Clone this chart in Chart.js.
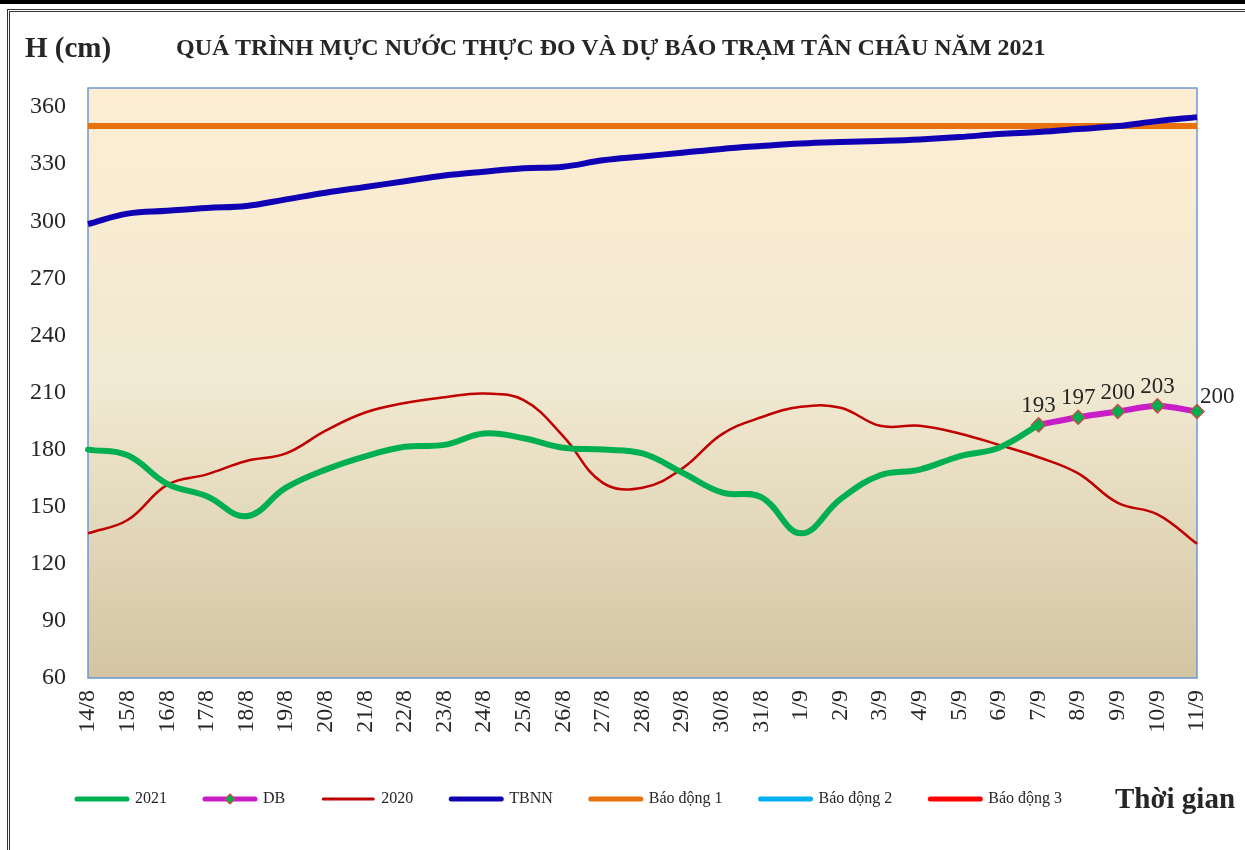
<!DOCTYPE html>
<html>
<head>
<meta charset="utf-8">
<title>Mực nước Tân Châu 2021</title>
<script src="https://cdn.jsdelivr.net/npm/chart.js@4.4.1/dist/chart.umd.min.js"></script>
<style>
  body { margin: 0; background: #fff; }
  #wrap { position: relative; width: 1245px; height: 850px; overflow: hidden; font-family: 'Liberation Serif', 'Times New Roman', serif; color: #262626; }
  #chart { position: absolute; left: 0; top: 0; }
  .topbar { position: absolute; left: 0; top: 0; width: 1245px; height: 4px; background: #000; }
  .frame { position: absolute; left: 7px; top: 9px; width: 1260px; height: 900px; border-left: 3px double #333; border-top: 3px double #333; }
  .txt { position: absolute; font-weight: bold; line-height: 1; white-space: nowrap; }
</style>
</head>
<body>
<div id="wrap">
  <div class="topbar"></div>
  <div class="frame"></div>
  <canvas id="chart" width="1245" height="850"></canvas>
  <div class="txt" style="left:25px;top:33px;font-size:29px;">H (cm)</div>
  <div class="txt" style="left:176px;top:35px;font-size:24px;">QUÁ TRÌNH MỰC NƯỚC THỰC ĐO VÀ DỰ BÁO TRẠM TÂN CHÂU NĂM 2021</div>
  <div class="txt" style="left:1115px;top:784px;font-size:29px;">Thời gian</div>
</div>
<script>
var labels = ['14/8', '15/8', '16/8', '17/8', '18/8', '19/8', '20/8', '21/8', '22/8', '23/8',
  '24/8', '25/8', '26/8', '27/8', '28/8', '29/8', '30/8', '31/8', '1/9', '2/9',
  '3/9', '4/9', '5/9', '6/9', '7/9', '8/9', '9/9', '10/9', '11/9'];

var level2021 = [180, 177, 162, 155.5, 145, 160, 169.5, 176.5, 181.5, 182.5,
  188.5, 186, 181, 180, 178, 168, 157.5, 155, 136, 154,
  166.5, 169.5, 176.5, 181, 193, null, null, null, null];

var forecast = [null, null, null, null, null, null, null, null, null, null,
  null, null, null, null, null, null, null, null, null, null,
  null, null, null, null, 193, 197, 200, 203, 200];

var level2020 = [136, 143, 161.5, 167, 174, 178, 190, 199.5, 204.5, 207.5,
  209.5, 206, 187, 162.5, 160, 170, 188, 197, 202.5, 202,
  192.5, 192.5, 188.5, 182.5, 176, 167.5, 152, 146, 130.5];

var average = [298.5, 304, 305.5, 307, 308, 311.5, 315, 318, 321, 324,
  326, 327.8, 328.6, 332, 334, 336, 338, 339.5, 340.8, 341.6,
  342.2, 343, 344.2, 345.8, 346.9, 348.4, 350, 352.6, 354.7];

var alarm1 = [350, 350, 350, 350, 350, 350, 350, 350, 350, 350,
  350, 350, 350, 350, 350, 350, 350, 350, 350, 350,
  350, 350, 350, 350, 350, 350, 350, 350, 350];

var alarm2 = [400, 400, 400, 400, 400, 400, 400, 400, 400, 400,
  400, 400, 400, 400, 400, 400, 400, 400, 400, 400,
  400, 400, 400, 400, 400, 400, 400, 400, 400];

var alarm3 = [450, 450, 450, 450, 450, 450, 450, 450, 450, 450,
  450, 450, 450, 450, 450, 450, 450, 450, 450, 450,
  450, 450, 450, 450, 450, 450, 450, 450, 450];

var yTicks = { min: 60, max: 370, step: 30, lastLabel: 360 };

var serif = "'Liberation Serif', 'Times New Roman', serif";
var textColor = '#262626';

function diamond(ctx, x, y, r) {
  ctx.beginPath();
  ctx.moveTo(x, y - r);
  ctx.lineTo(x + r, y);
  ctx.lineTo(x, y + r);
  ctx.lineTo(x - r, y);
  ctx.closePath();
  ctx.fill();
  ctx.stroke();
}

var plotBackground = {
  id: 'plotBackground',
  beforeDatasetsDraw: function (chart) {
    var a = chart.chartArea;
    var ctx = chart.ctx;
    var g = ctx.createLinearGradient(0, a.top, 0, a.bottom);
    g.addColorStop(0, '#fdeed2');
    g.addColorStop(0.5, '#f1e9d2');
    g.addColorStop(1, '#d3c5a1');
    ctx.save();
    ctx.fillStyle = g;
    ctx.fillRect(a.left, a.top, a.right - a.left, a.bottom - a.top);
    ctx.strokeStyle = '#6d97d6';
    ctx.lineWidth = 1.5;
    ctx.strokeRect(a.left, a.top, a.right - a.left, a.bottom - a.top);
    ctx.restore();
  }
};

// legend starts a bit right of the y axis box, as in the picture
var legendShift = {
  id: 'legendShift',
  afterLayout: function (chart) {
    chart.legend.left += 19;
    chart.legend.right += 19;
  }
};

var forecastLabels = {
  id: 'forecastLabels',
  afterDatasetsDraw: function (chart) {
    var ctx = chart.ctx;
    var points = chart.getDatasetMeta(1).data;
    ctx.save();
    ctx.font = '23px ' + serif;
    ctx.fillStyle = textColor;
    ctx.textBaseline = 'alphabetic';
    points.forEach(function (pt, i) {
      if (forecast[i] === null) return;
      if (i === labels.length - 1) {
        ctx.textAlign = 'left';
        ctx.fillText(forecast[i], pt.x + 3, pt.y - 9);
      } else {
        ctx.textAlign = 'center';
        ctx.fillText(forecast[i], pt.x, pt.y - 13);
      }
    });
    ctx.restore();
  },
  afterDraw: function (chart) {
    var box = chart.legend.legendHitBoxes[1];
    if (!box) return;
    var ctx = chart.ctx;
    ctx.save();
    ctx.fillStyle = '#00b050';
    ctx.strokeStyle = '#c0504d';
    ctx.lineWidth = 1.2;
    diamond(ctx, box.left + 25, box.top + 8, 5);
    ctx.restore();
  }
};

var chartContext = document.getElementById('chart');

var waterChart = new Chart(chartContext, {
  type: 'line',
  data: {
    labels: labels,
    datasets: [
      { label: '2021', data: level2021, borderColor: '#00b050', backgroundColor: '#00b050', borderWidth: 6, pointRadius: 0, tension: 0.4, borderCapStyle: 'round' },
      { label: 'DB', data: forecast, borderColor: '#c81cc8', backgroundColor: '#c81cc8', borderWidth: 6, tension: 0.3, clip: 12,
        pointStyle: 'rectRot', pointRadius: 7, pointBackgroundColor: '#00b050', pointBorderColor: '#c0504d', pointBorderWidth: 1.5 },
      { label: '2020', data: level2020, borderColor: '#c00000', backgroundColor: '#c00000', borderWidth: 2.5, pointRadius: 0, tension: 0.4 },
      { label: 'TBNN', data: average, borderColor: '#1000b4', backgroundColor: '#1000b4', borderWidth: 6, pointRadius: 0, tension: 0.4 },
      { label: 'Báo động 1', data: alarm1, borderColor: '#e8710e', backgroundColor: '#e8710e', borderWidth: 6, pointRadius: 0 },
      { label: 'Báo động 2', data: alarm2, borderColor: '#00b0f0', backgroundColor: '#00b0f0', borderWidth: 6, pointRadius: 0 },
      { label: 'Báo động 3', data: alarm3, borderColor: '#ff0000', backgroundColor: '#ff0000', borderWidth: 6, pointRadius: 0 }
    ]
  },
  options: {
    responsive: false,
    animation: false,
    devicePixelRatio: 1,
    layout: { padding: { left: 20, right: 48, top: 88, bottom: 33 } },
    scales: {
      x: {
        grid: { display: false, drawTicks: false },
        border: { display: false },
        ticks: { autoSkip: false, minRotation: 90, maxRotation: 90, padding: 12, color: textColor, font: { family: serif, size: 24 } },
        afterFit: function (scale) { scale.height = 75; }
      },
      y: {
        min: yTicks.min,
        max: yTicks.max,
        bounds: 'data',
        grid: { display: false, drawTicks: false },
        border: { display: false },
        ticks: { stepSize: yTicks.step, padding: 22, color: textColor, font: { family: serif, size: 24 } },
        afterBuildTicks: function (scale) {
          scale.ticks = scale.ticks.filter(function (t) { return t.value <= yTicks.lastLabel; });
        },
        afterFit: function (scale) { scale.width = 68; }
      }
    },
    plugins: {
      tooltip: { enabled: false },
      legend: {
        position: 'bottom',
        align: 'start',
        onClick: null,
        labels: {
          usePointStyle: true,
          pointStyleWidth: 50,
          padding: 38,
          color: textColor,
          font: { family: serif, size: 16 },
          generateLabels: function (chart) {
            return chart.data.datasets.map(function (ds, i) {
              return {
                text: ds.label,
                strokeStyle: ds.borderColor,
                fillStyle: ds.borderColor,
                lineWidth: i === 2 ? 3 : 5,
                lineCap: 'round',
                pointStyle: 'line',
                fontColor: textColor,
                hidden: false,
                datasetIndex: i
              };
            });
          }
        }
      }
    }
  },
  plugins: [plotBackground, legendShift, forecastLabels]
});
</script>
</body>
</html>
